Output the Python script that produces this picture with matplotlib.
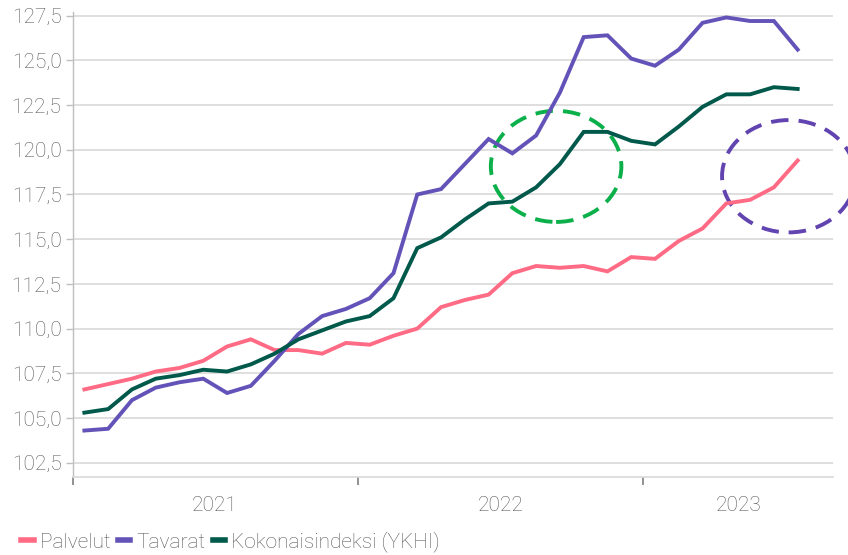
import matplotlib.pyplot as plt
from matplotlib.patches import Ellipse
from matplotlib.ticker import FuncFormatter

# monthly index, Jan 2021 .. Jul 2023 (Aug 2023 slot left empty)
palvelut = [106.6, 106.9, 107.2, 107.6, 107.8, 108.2, 109.0, 109.4, 108.8, 108.8,
            108.6, 109.2, 109.1, 109.6, 110.0, 111.2, 111.6, 111.9, 113.1, 113.5,
            113.4, 113.5, 113.2, 114.0, 113.9, 114.9, 115.6, 117.0, 117.2, 117.9,
            119.4]
tavarat = [104.3, 104.4, 106.0, 106.7, 107.0, 107.2, 106.4, 106.8, 108.2, 109.7,
           110.7, 111.1, 111.7, 113.1, 117.5, 117.8, 119.2, 120.6, 119.8, 120.8,
           123.2, 126.3, 126.4, 125.1, 124.7, 125.6, 127.1, 127.4, 127.2, 127.2,
           125.6]
ykhi = [105.3, 105.5, 106.6, 107.2, 107.4, 107.7, 107.6, 108.0, 108.6, 109.4,
        109.9, 110.4, 110.7, 111.7, 114.5, 115.1, 116.1, 117.0, 117.1, 117.9,
        119.2, 121.0, 121.0, 120.5, 120.3, 121.3, 122.4, 123.1, 123.1, 123.5,
        123.4]
years = ["2021", "2022", "2023"]
months_per_year = [12, 12, 8]

plt.rcParams['font.family'] = ['Roboto', 'DejaVu Sans']
plt.rcParams['font.weight'] = 'light'
grey_txt = '#595959'
fs = 15

fig = plt.figure(figsize=(8.48, 5.55), dpi=100)
ax = fig.add_axes([0.0855, 0.1411, 0.8972, 0.8378])

x = list(range(len(palvelut)))
ax.plot(x, palvelut, color='#FF6B84', lw=2.8, label='Palvelut', solid_joinstyle='miter')
ax.plot(x, tavarat, color='#6352B8', lw=2.8, label='Tavarat', solid_joinstyle='miter')
ax.plot(x, ykhi, color='#00594A', lw=2.8, label='Kokonaisindeksi (YKHI)', solid_joinstyle='miter')

# highlight circles
ax.add_patch(Ellipse((19.84, 119.07), 5.49, 6.21, fill=False, ec='#0CB04A', lw=2.8,
                     ls=(0, (4.5, 2.6)), clip_on=False))
ax.add_patch(Ellipse((29.62, 118.52), 5.6, 6.28, fill=False, ec='#6244B0', lw=2.8,
                     ls=(0, (4.5, 2.6)), clip_on=False))

ax.set_xlim(-0.5, sum(months_per_year) - 0.5)
ax.set_ylim(101.72, 127.72)
ax.set_yticks([102.5 + 2.5 * k for k in range(11)])
ax.yaxis.set_major_formatter(FuncFormatter(lambda v, p: f"{v:.1f}".replace('.', ',')))
ax.grid(axis='y', color='#D9D9D9', lw=1.2)
ax.set_axisbelow(True)

# year boundaries as ticks, year names centred in minor positions
bounds = [-0.5]
for m in months_per_year:
    bounds.append(bounds[-1] + m)
ax.set_xticks(bounds[:-1])
ax.set_xticklabels([])
ax.set_xticks([(bounds[i] + bounds[i + 1]) / 2 for i in range(len(years))], minor=True)
ax.set_xticklabels(years, minor=True)
ax.tick_params(axis='x', which='major', length=6, width=1.2, color='#7F7F7F', direction='out')
ax.tick_params(axis='x', which='minor', length=0, pad=14, labelsize=fs, labelcolor=grey_txt)
ax.tick_params(axis='y', length=5, width=1, color='#BFBFBF', labelsize=fs,
               labelcolor=grey_txt, pad=3)

for s in ['top', 'right']:
    ax.spines[s].set_visible(False)
ax.spines['left'].set_color('#BFBFBF')
ax.spines['bottom'].set_color('#D9D9D9')
ax.spines['left'].set_linewidth(1)
ax.spines['bottom'].set_linewidth(1.2)

leg = fig.legend(loc='center left', bbox_to_anchor=(0.0248, 0.0234), ncol=3, frameon=False,
                 fontsize=fs, handlelength=0.6, handletextpad=0.3, columnspacing=0.35,
                 borderpad=0, borderaxespad=0, labelcolor=grey_txt)
for h in leg.get_lines():
    h.set_linewidth(4)

fig.savefig('out.png', dpi=100)
